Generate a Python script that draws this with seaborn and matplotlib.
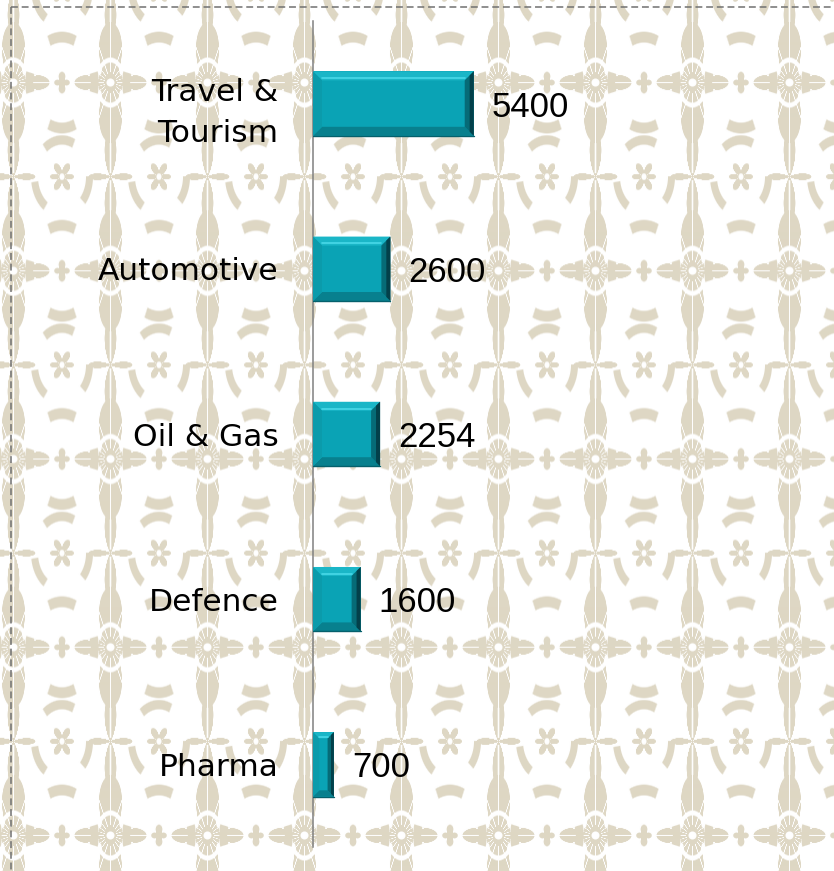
import numpy as np
import pandas as pd
import matplotlib
matplotlib.use("Agg")
import matplotlib.pyplot as plt
from matplotlib.patches import Polygon
from matplotlib.lines import Line2D
import seaborn as sns

# ---- data ----
categories = ["Travel &\nTourism", "Automotive", "Oil & Gas", "Defence", "Pharma"]
values = [5400, 2600, 2254, 1600, 700]

df = pd.DataFrame({"sector": categories, "value": values})

sns.set_theme(style="white")
plt.rcParams["font.family"] = ["Liberation Sans", "DejaVu Sans"]

W, H = 834, 871
fig = plt.figure(figsize=(W / 100, H / 100), dpi=100)

# ---- damask-like background (decorative) ----
Y, X = np.mgrid[0:H, 0:W].astype(float)
px, py = 97.0, 188.0
ox, oy = 13.0, 83.0


def local(cx, cy):
    u = (X - cx + px / 2) % px - px / 2
    v = (Y - cy + py / 2) % py - py / 2
    return u, v


def soft(d):
    return np.clip(d + 0.5, 0, 1)


# medallion (lotus-like, vertical)
u, v = local(ox, oy)
r = np.hypot(u, v * 0.6)
th = np.arctan2(v, u)
R1 = 36 * (0.3 + 0.7 * np.abs(np.cos(2 * th)) ** 3)
m1 = soft(R1 - r)
veins = soft(1.0 - np.abs(np.sin(10 * th)) * r * 0.35) * (r > 6)
m1 = np.clip(m1 - veins, 0, 1)
m1 = np.clip(m1 - soft(np.minimum(r - 12, 15 - r)), 0, 1)
m1 = np.clip(m1 - soft(4 - np.hypot(u, v)), 0, 1)

# scroll motif at half offset
u2, v2 = local(ox + px / 2, oy + py / 2)
r2 = np.hypot(u2, v2 * 0.75)
th2 = np.arctan2(v2, u2)
m2 = soft(np.minimum(r2 - 24, 31 - r2)) * soft((np.sin(3 * th2 + 0.3) - 0.25) * 8)
m2 = np.maximum(m2, soft(12 * (0.3 + 0.7 * np.abs(np.cos(3 * th2))) - r2))
m2 = np.clip(m2 - soft(2.5 - r2), 0, 1)

# small leaf clusters
u3, v3 = local(ox, oy + py / 2)
r3 = np.hypot(u3 * 1.1, v3 * 0.55)
th3 = np.arctan2(v3, u3)
m3 = soft(24 * np.abs(np.cos(2 * th3)) ** 4 - r3)
m3 = np.clip(m3 - soft(0.8 - np.abs(u3)) * (np.abs(v3) > 3), 0, 1)
u4, v4 = local(ox + px / 2, oy)
r4 = np.hypot(u4 * 0.9, v4 * 0.65)
th4 = np.arctan2(v4, u4)
m4 = soft(np.minimum(r4 - 26, 33 - r4)) * soft((np.cos(4 * th4) - 0.35) * 8)
m4 = np.maximum(m4, soft(7 * (0.4 + 0.6 * np.abs(np.cos(2 * th4))) - r4))

mask = np.clip(m1 + m2 + m3 + m4, 0, 1)
beige = np.array([222, 215, 196]) / 255.0
white = np.array([1.0, 1.0, 1.0])
img = white[None, None, :] * (1 - mask[..., None]) + beige[None, None, :] * mask[..., None]

bg = fig.add_axes([0, 0, 1, 1], zorder=0)
bg.imshow(img, extent=(0, W, H, 0), aspect="auto", interpolation="bilinear")
bg.set_xlim(0, W)
bg.set_ylim(H, 0)
bg.axis("off")

# dashed border
bg.add_line(Line2D([11, 11], [7, H + 5], color="#707070", lw=1.1, dashes=(4.5, 2.5)))
bg.add_line(Line2D([11, W + 5], [7, 7], color="#707070", lw=1.1, dashes=(4.5, 2.5)))

# ---- main axes ----
top_px, bot_px = 21, 847
left_px, right_px = 313, 813
ax = fig.add_axes([left_px / W, (H - bot_px) / H, (right_px - left_px) / W, (bot_px - top_px) / H], zorder=1)
ax.patch.set_alpha(0)

face = "#0aa3b5"
sns.barplot(data=df, x="value", y="sector", orient="h", color=face, width=0.39,
            saturation=1, ax=ax, edgecolor="none", linewidth=0)

ax.set_xlim(0, 16800)
ax.set_ylim(4.5, -0.5)
ax.set_xlabel("")
ax.set_ylabel("")
ax.set_xticks([])
for s in ["top", "right", "bottom"]:
    ax.spines[s].set_visible(False)
ax.spines["left"].set_color("#808080")
ax.spines["left"].set_linewidth(1.1)
ax.tick_params(axis="y", length=0, pad=25)
for lab in ax.get_yticklabels():
    lab.set_fontsize(22.5)
    lab.set_family(["DejaVu Sans"])
    lab.set_color("black")
    lab.set_linespacing(1.55)
    lab.set_ha("right")

# bevel effect on bars
p0 = ax.transData.transform((0, 0))
p1 = ax.transData.transform((1, 1))
sx = abs(p1[0] - p0[0])
sy = abs(p1[1] - p0[1])
for patch in list(ax.patches):
    x0 = patch.get_x()
    w = patch.get_width()
    yt = patch.get_y()
    h = patch.get_height()
    x1 = x0 + w
    yb = yt + h
    b = min(9.0, w * sx * 0.3)
    bx = b / sx
    by = b / sy
    polys = [
        ([(x0, yt), (x1, yt), (x1 - bx, yt + by), (x0 + bx, yt + by)], "#1ab6c7"),
        ([(x0, yb), (x1, yb), (x1 - bx, yb - by), (x0 + bx, yb - by)], "#08808e"),
        ([(x0, yt), (x0, yb), (x0 + bx, yb - by), (x0 + bx, yt + by)], "#0b9bab"),
        ([(x1, yt), (x1, yb), (x1 - bx, yb - by), (x1 - bx, yt + by)], "#066b77"),
    ]
    for pts, c in polys:
        ax.add_patch(Polygon(pts, closed=True, facecolor=c, edgecolor="none", zorder=3))
    # outer dark strip on the right bevel
    bx2 = bx * 0.45
    ax.add_patch(Polygon([(x1, yt), (x1, yb), (x1 - bx2, yb - by * 0.45), (x1 - bx2, yt + by * 0.45)],
                         closed=True, facecolor="#03404a", edgecolor="none", zorder=3))
    ax.add_line(Line2D([x0 + bx, x1 - bx], [yt + by * 0.75, yt + by * 0.75], color="#48d8e8", lw=1.2, zorder=4))
    ax.add_line(Line2D([x0, x1], [yb, yb], color="#05606c", lw=1.0, zorder=4))

# value labels
for i, v in enumerate(values):
    ax.annotate(f"{v}", (v, i), xytext=(13, 0), textcoords="offset points",
                va="center_baseline", ha="left", fontsize=25, color="black",
                family=["Liberation Sans", "DejaVu Sans"], zorder=5)

fig.savefig("out.png", dpi=100)
